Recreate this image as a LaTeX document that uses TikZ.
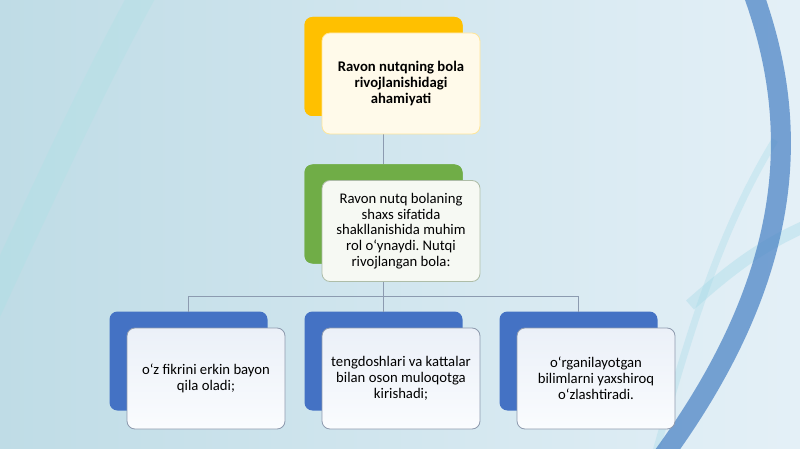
\documentclass[tikz,border=0pt]{standalone}
\usepackage{fontspec}
\setmainfont{Carlito}
\frenchspacing
\definecolor{yel}{HTML}{FFC000}
\definecolor{grn}{HTML}{70AD47}
\definecolor{blu}{HTML}{4472C4}
\definecolor{linec}{HTML}{8C9BB0}
\definecolor{bgl}{HTML}{BFDCE6}
\definecolor{bgm}{HTML}{EEF6FA}
\definecolor{bgr}{HTML}{E4F0F7}
\definecolor{arcb}{HTML}{4F86C6}
\definecolor{arcc}{HTML}{9ED8E6}
\definecolor{arcl}{HTML}{9FE3E3}
\definecolor{topfill}{HTML}{FFFAEA}
\definecolor{topdraw}{HTML}{FFE699}
\definecolor{grnfill}{HTML}{F6F9F3}
\definecolor{grndraw}{HTML}{AEBDA8}
\definecolor{blutop}{HTML}{EBF0F8}
\definecolor{blubot}{HTML}{FAFCFE}
\definecolor{bludraw}{HTML}{8E9AAE}
\begin{document}
\begin{tikzpicture}[x=1pt,y=-1pt,
  backbox/.style={rounded corners=8pt, draw=none, minimum width=158pt, minimum height=99pt, inner sep=0pt, outer sep=0pt},
  frontbox/.style={rounded corners=8pt, line width=0.8pt, minimum width=158pt, minimum height=101pt, inner sep=2pt, outer sep=0pt, align=center, font=\fontsize{14.7}{15.8}\selectfont, text=black},
  conn/.style={draw=linec, line width=0.8pt}]
% background
\shade[left color=bgl, middle color=bgm, right color=bgr] (0,0) rectangle (800,449);
\useasboundingbox (0,0) rectangle (800,449);
\draw[line width=26pt, color=arcl, opacity=0.22] (145,-10) .. controls (90,90) and (40,200) .. (-25,340);
\draw[line width=12pt, color=arcc, opacity=0.35] (690,305) .. controls (730,270) and (760,245) .. (815,222);
\draw[line width=7pt, color=arcc, opacity=0.3] (655,455) .. controls (690,330) and (720,230) .. (775,140);
\draw[line width=20pt, color=arcb, opacity=0.75] (752,-10) .. controls (800,120) and (800,270) .. (660,460);
% back boxes
\node[backbox, fill=yel] (b1) at (383.5,66.5) {};
\node[backbox, fill=grn] (b2) at (383.5,214) {};
\node[backbox, fill=blu] (b3) at (188.5,361) {};
\node[backbox, fill=blu] (b4) at (383.5,361) {};
\node[backbox, fill=blu] (b5) at (578.5,361) {};
% connectors
\coordinate (hub) at (383.5,296);
\draw[conn] (b1.center) -- (b2.north);
\draw[conn] (b2.center) -- (hub);
\draw[conn] (b3.north) -- (b3.north |- hub) -- (b5.north |- hub) -- (b5.north);
\draw[conn] (hub) -- (b4.north);
% redraw back boxes over connectors
\node[backbox, fill=yel] at (b1) {};
\node[backbox, fill=grn] at (b2) {};
% front boxes
\node[frontbox, fill=topfill, draw=topdraw, font=\fontsize{14.7}{15.8}\selectfont\bfseries] (f1) at (401,83.5)
  {Ravon nutqning bola\\rivojlanishidagi\\ahamiyati};
\node[frontbox, fill=grnfill, draw=grndraw] (f2) at (401,231)
  {Ravon nutq bolaning\\shaxs sifatida\\shakllanishida muhim\\rol o‘ynaydi. Nutqi\\rivojlangan bola:};
\node[frontbox, top color=blutop, bottom color=blubot, draw=bludraw] (f3) at (206,378.5)
  {o‘z fikrini erkin bayon\\qila oladi;};
\node[frontbox, top color=blutop, bottom color=blubot, draw=bludraw] (f4) at (401,378.5)
  {tengdoshlari va kattalar\\bilan oson muloqotga\\kirishadi;};
\node[frontbox, top color=blutop, bottom color=blubot, draw=bludraw] (f5) at (596,378.5)
  {o‘rganilayotgan\\bilimlarni yaxshiroq\\o‘zlashtiradi.};
\end{tikzpicture}
\end{document}
